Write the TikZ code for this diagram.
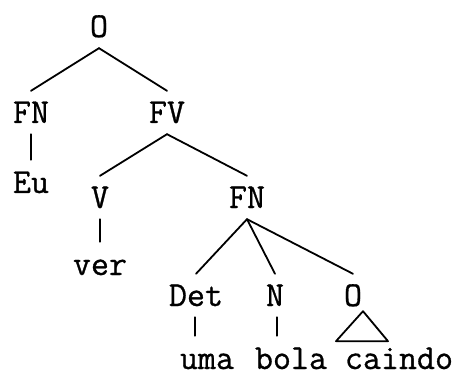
\documentclass[tikz,border=0pt]{standalone}
\usepackage{fontspec}
\usetikzlibrary{calc}
% typewriter face, slightly emboldened
\newfontfamily\twfont{Latin Modern Mono}[RawFeature={embolden=0.8}]
\begin{document}
\begin{tikzpicture}[x=1pt,y=-1pt,
  lbl/.style={font=\fontsize{35}{38}\selectfont\twfont, anchor=base,
    text height=21pt, text depth=0pt, inner xsep=0pt, inner ysep=11pt},
  word/.style={lbl, text height=32pt, inner ysep=1pt},
  edge/.style={line width=1.8pt, line cap=round, line join=round}]
\useasboundingbox (0,0) rectangle (463,374);
% categories
\node[lbl] (o)      at (99,37)   {O};
\node[lbl] (fna)    at (31,123)  {FN};
\node[lbl] (fv)     at (167,123) {FV};
\node[lbl] (v)      at (100,208) {V};
\node[lbl] (fnb)    at (247,208) {FN};
\node[lbl] (det)    at (196,306) {Det};
\node[lbl] (n)      at (275,306) {N};
\node[lbl] (os)     at (353,306) {O};
% words
\node[word] (eu)     at (31,193)  {Eu};
\node[word] (ver)    at (100,275) {ver};
\node[word] (uma)    at (207,369) {uma};
\node[word] (bola)   at (291,369) {bola};
\node[word] (caindo) at (399,369) {caindo};
% branches
\draw[edge] (o.south) -- (fna.north);
\draw[edge] (o.south) -- (fv.north);
\draw[edge] (fna.south) -- (eu.north);
\draw[edge] (fv.south) -- (v.north);
\draw[edge] (fv.south) -- (fnb.north);
\draw[edge] (v.south) -- (ver.north);
\draw[edge] (fnb.south) -- (det.north);
\draw[edge] (fnb.south) -- (n.north);
\draw[edge] (fnb.south) -- (os.north);
\draw[edge] ([xshift=-1pt]det.south) -- ([xshift=-1pt]det.south |- uma.north);
\draw[edge] ([xshift=2pt]n.south) -- ([xshift=2pt]n.south |- bola.north);
% unanalysed clause
\draw[edge] ($(os.south)+(10,-6)$) -- ($(os.south)+(-17,24)$)
  -- ($(os.south)+(35,24)$) -- cycle;
\end{tikzpicture}
\end{document}
